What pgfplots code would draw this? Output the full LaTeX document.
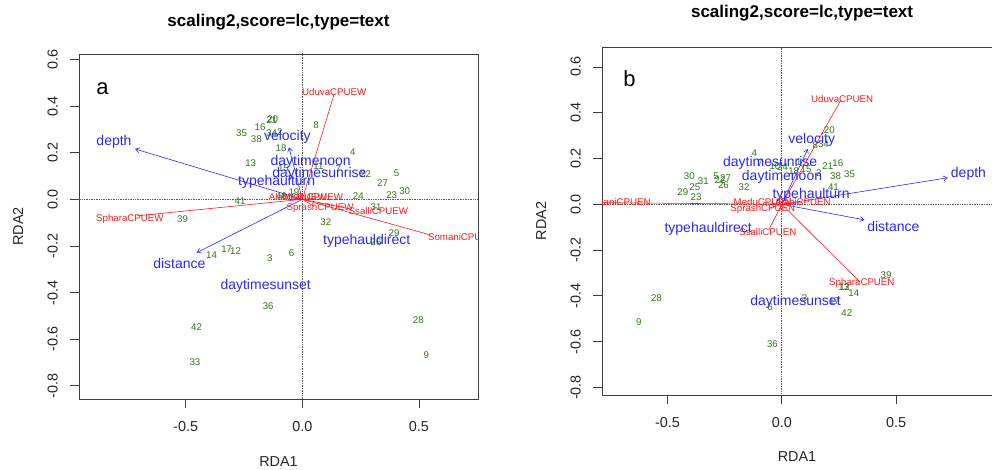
\documentclass[border=0pt]{standalone}
\usepackage{fontspec}
\setmainfont{Liberation Sans}
\usepackage{pgfplots}
\usepackage{pgfplotstable}
\pgfplotsset{compat=1.18}
\usetikzlibrary{arrows.meta}

\definecolor{sitegreen}{RGB}{50,115,25}
\definecolor{rblue}{RGB}{40,40,255}
\definecolor{rred}{RGB}{255,25,25}
\definecolor{framegray}{RGB}{60,60,60}

% site scores, panel a
\pgfplotstableread{
x y lab
-0.131 0.340 21
-0.127 0.343 20
-0.181 0.311 16
-0.260 0.283 35
-0.131 0.283 34
-0.096 0.290 2
-0.197 0.257 38
0.059 0.316 8
-0.091 0.221 18
-0.221 0.157 13
0.216 0.200 4
0.404 0.110 5
0.344 0.069 27
0.439 0.037 30
0.383 0.019 23
0.240 0.013 24
-0.267 -0.007 41
0.271 0.110 22
0.154 0.129 7
-0.081 0.133 15
0.069 0.144 11
-0.036 0.029 19
-0.089 0.014 40
0.316 -0.034 31
0.101 -0.096 32
0.393 -0.143 29
0.316 -0.184 26
-0.513 -0.086 39
-0.324 -0.214 17
-0.286 -0.224 12
-0.389 -0.241 14
-0.139 -0.253 3
-0.046 -0.231 6
-0.146 -0.456 36
-0.453 -0.547 42
-0.460 -0.697 33
0.497 -0.520 28
0.531 -0.669 9
}\sitesA

\pgfplotstableread{
x y lab
-0.807 0.247 depth
-0.527 -0.274 distance
-0.064 0.266 velocity
0.036 0.159 daytimenoon
0.073 0.110 daytimesunrise
-0.110 0.073 typehaulturn
0.276 -0.177 typehauldirect
-0.157 -0.371 daytimesunset
}\bioA

\pgfplotstableread{
x y lab
0.137 0.459 UduvaCPUEW
-0.739 -0.086 SpharaCPUEW
0.687 -0.160 SomaniCPUEW
0.326 -0.049 SsalliCPUEW
0.076 -0.039 SprashCPUEW
-0.020 0.010 AlabiCPUEW
0.045 0.008 MeduCPUEW
}\sppA

% site scores, panel b
\pgfplotstableread{
x y lab
0.208 0.325 20
-0.120 0.223 4
-0.095 0.179 7
0.146 0.259 8
0.182 0.262 34
0.004 0.164 24
-0.030 0.165 10
0.052 0.144 18
0.106 0.154 15
0.162 0.138 2
0.201 0.169 21
0.245 0.179 16
0.235 0.124 38
0.296 0.132 35
0.226 0.074 41
0.074 0.186 1
-0.404 0.121 30
-0.343 0.099 31
-0.380 0.074 25
-0.433 0.052 29
-0.375 0.031 23
-0.287 0.121 5
-0.246 0.114 27
-0.270 0.106 22
-0.255 0.083 26
-0.165 0.077 32
0.456 -0.310 39
0.271 -0.362 13
0.275 -0.360 12
0.315 -0.386 14
0.099 -0.412 3
0.230 -0.425 17
0.284 -0.476 42
-0.051 -0.450 6
-0.041 -0.610 36
-0.548 -0.412 28
-0.625 -0.517 9
}\sitesB

\pgfplotstableread{
x y lab
0.816 0.132 depth
0.488 -0.099 distance
0.131 0.281 velocity
-0.051 0.183 daytimesunrise
0.001 0.121 daytimenoon
0.128 0.041 typehaulturn
-0.322 -0.106 typehauldirect
0.060 -0.428 daytimesunset
}\bioB

\pgfplotstableread{
x y lab
0.264 0.461 UduvaCPUEN
0.350 -0.345 SpharaCPUEN
-0.720 0.009 SomaniCPUEN
-0.061 -0.122 SsalliCPUEN
-0.083 -0.022 SprashCPUEN
-0.083 0.012 MeduCPUEN
0.092 0.012 AlabiCPUEN
}\sppB

\pgfplotsset{
  rda/.style={
    scale only axis,
    tick align=outside,
    major tick length=9pt,
    tick pos=left,
    axis line style={framegray, line width=0.9pt},
    tick style={framegray, line width=0.9pt},
    xtick={-0.5,0,0.5},
    ytick={-0.8,-0.6,-0.4,-0.2,0,0.2,0.4,0.6},
    /pgf/number format/assume math mode=true,
    /pgf/number format/.cd, fixed, fixed zerofill, precision=1,
    /pgfplots/.cd,
    ticklabel style={font=\fontsize{14.4}{16}\selectfont, text=black!85},
    xticklabel style={inner sep=13pt},
    yticklabel style={rotate=90, anchor=south, inner sep=12pt},
    label style={font=\fontsize{14.4}{16}\selectfont, text=black!85},
    title style={font=\fontsize{17}{20}\selectfont\bfseries, anchor=center},
    clip marker paths=true,
  },
  lbl/.style n args={2}{
    mark=none, draw=none,
    nodes near coords, point meta=explicit symbolic,
    every node near coord/.append style={anchor=center, inner sep=0pt,
      text=#1, font=\fontsize{#2}{#2}\selectfont},
  },
  zeroline/.style={densely dotted, black!65, line width=0.7pt},
  bioarrow/.style={rblue, line width=0.6pt, -{Straight Barb[length=4pt, width=5pt]}},
  spline/.style={rred, line width=0.6pt},
}

\begin{document}
\begin{tikzpicture}
\path[use as bounding box] (0,0) rectangle (992pt,470pt);

% ---------------- panel a ----------------
\begin{axis}[rda,
  at={(79pt,71pt)}, anchor=south west,
  width=399pt, height=345pt,
  xmin=-0.957, xmax=0.753, ymin=-0.856, ymax=0.623,
  title={scaling2,score=lc,type=text},
  title style={at={(axis description cs:0.5,1.0754)}},
  xlabel={RDA1}, ylabel={RDA2},
  xlabel style={at={(axis description cs:0.5,-0.1826)}, anchor=center},
  ylabel style={at={(axis description cs:-0.1529,0.5)}, anchor=center},
]
\addplot[zeroline] coordinates {(-2,0) (2,0)};
\addplot[zeroline] coordinates {(0,-2) (0,2)};
\addplot[lbl={sitegreen}{9.7}] table[x=x, y=y, meta=lab] {\sitesA};
\addplot[spline] coordinates {(0,0) (0.136,0.450)};
\addplot[spline] coordinates {(0,0) (-0.710,-0.071)};
\addplot[spline] coordinates {(0,0) (0.550,-0.153)};
\addplot[spline] coordinates {(0,0) (0.200,-0.040)};
\addplot[spline] coordinates {(0,0) (0.050,-0.030)};
\addplot[spline] coordinates {(0,0) (-0.040,0.005)};
\addplot[spline] coordinates {(0,0) (0.060,0.005)};
\addplot[bioarrow] coordinates {(0,0) (-0.717,0.216)};
\addplot[bioarrow] coordinates {(0,0) (-0.453,-0.229)};
\addplot[bioarrow] coordinates {(0,0) (-0.057,0.223)};
\addplot[lbl={rred}{9.7}] table[x=x, y=y, meta=lab] {\sppA};
\addplot[lbl={rblue}{14}] table[x=x, y=y, meta=lab] {\bioA};
\node[font=\fontsize{22}{22}\selectfont] at (axis cs:-0.856,0.476) {a};
\end{axis}

% ---------------- panel b ----------------
\begin{axis}[rda,
  at={(602pt,75pt)}, anchor=south west,
  width=390pt, height=347.7pt,
  axis x line*=box, axis y line*=left, tick pos=left,
  xmin=-0.786, xmax=0.919, ymin=-0.833, ymax=0.686,
  title={scaling2,score=lc,type=text},
  title style={at={(axis description cs:0.513,1.0800)}},
  xlabel={RDA1}, ylabel={RDA2},
  xlabel style={at={(axis description cs:0.5,-0.1783)}, anchor=center},
  ylabel style={at={(axis description cs:-0.1564,0.5)}, anchor=center},
]
\addplot[zeroline] coordinates {(-2,0) (2,0)};
\addplot[zeroline] coordinates {(0,-2) (0,2)};
\addplot[lbl={sitegreen}{9.7}] table[x=x, y=y, meta=lab] {\sitesB};
\addplot[spline] coordinates {(0,0) (0.259,0.456)};
\addplot[spline] coordinates {(0,0) (0.340,-0.338)};
\addplot[spline] coordinates {(0,0) (-0.850,0.008)};
\addplot[spline] coordinates {(0,0) (-0.057,-0.112)};
\addplot[spline] coordinates {(0,0) (-0.050,-0.015)};
\addplot[spline] coordinates {(0,0) (-0.080,0.008)};
\addplot[spline] coordinates {(0,0) (0.090,0.008)};
\addplot[bioarrow] coordinates {(0,0) (0.726,0.116)};
\addplot[bioarrow] coordinates {(0,0) (0.362,-0.068)};
\addplot[bioarrow] coordinates {(0,0) (0.114,0.242)};
\addplot[lbl={rred}{9.7}] table[x=x, y=y, meta=lab] {\sppB};
\addplot[lbl={rblue}{14}] table[x=x, y=y, meta=lab] {\bioB};
\node[font=\fontsize{22}{22}\selectfont] at (axis cs:-0.666,0.55) {b};
\end{axis}
\end{tikzpicture}
\end{document}
